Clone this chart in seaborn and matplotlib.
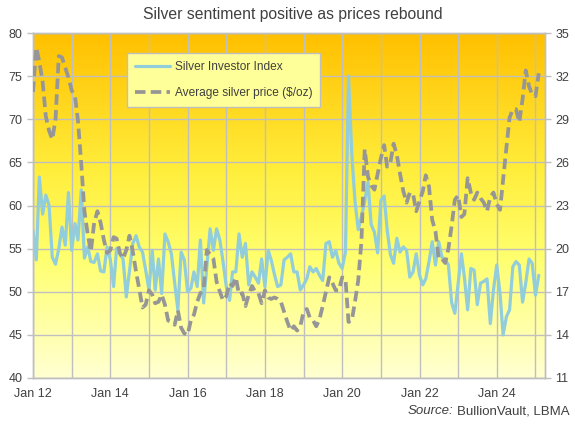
import numpy as np
import pandas as pd
import matplotlib
matplotlib.use('Agg')
import matplotlib.pyplot as plt
from matplotlib.colors import LinearSegmentedColormap
import seaborn as sns

# monthly, Jan 2012 .. Feb 2025
index_vals = [
    57.1, 53.7, 63.3, 59.0, 61.2, 60.0, 54.0, 53.2, 55.0, 57.5, 55.4, 61.5,
    54.8, 57.9, 56.0, 61.8, 53.9, 55.2, 53.5, 53.4, 54.4, 52.4, 52.3, 55.2,
    53.7, 50.6, 55.0, 54.4, 53.8, 49.4, 52.5, 55.6, 56.5, 55.2, 54.6, 52.5,
    50.2, 54.8, 50.2, 53.8, 49.8, 56.7, 55.8, 54.4, 51.0, 47.9, 54.6, 53.7,
    50.0, 50.4, 52.3, 50.6, 56.0, 48.7, 52.9, 57.3, 54.8, 57.3, 56.0, 53.5,
    50.6, 49.0, 52.3, 52.3, 56.7, 54.0, 55.6, 50.8, 52.3, 51.7, 51.0, 53.8,
    50.6, 54.8, 53.7, 52.0, 50.6, 50.8, 53.7, 54.0, 54.4, 52.3, 52.3, 50.2,
    50.8, 51.5, 52.9, 52.3, 52.7, 51.9, 51.3, 55.6, 55.8, 54.0, 54.8, 53.3,
    52.7, 54.6, 75.0, 66.0, 60.5, 57.2, 58.7, 60.5, 62.7, 57.8, 56.9, 54.5,
    60.6, 61.1, 57.2, 54.3, 53.3, 56.2, 54.6, 55.2, 54.8, 51.7, 52.3, 54.4,
    51.9, 50.8, 51.5, 53.5, 55.8, 53.1, 55.8, 54.0, 53.7, 53.1, 48.7, 47.5,
    51.0, 54.4, 51.7, 47.9, 52.7, 52.5, 48.5, 51.0, 51.2, 51.5, 46.3, 50.2,
    53.1, 49.8, 45.0, 47.1, 47.9, 52.9, 53.5, 53.1, 48.8, 51.0, 53.8, 53.3,
    49.6, 51.9,
]

price_vals = [
    30.9, 34.0, 33.0, 31.6, 29.2, 28.2, 27.6, 29.0, 33.4, 33.3, 32.6, 31.9,
    31.0, 30.6, 28.9, 25.9, 22.6, 21.0, 19.8, 21.8, 22.6, 21.8, 20.6, 19.7,
    19.9, 20.8, 20.7, 19.7, 19.3, 19.9, 20.9, 19.8, 18.4, 17.2, 15.9, 16.1,
    17.1, 16.8, 16.2, 16.3, 16.8, 16.1, 15.0, 14.9, 14.7, 15.7, 14.5, 14.1,
    14.0, 15.0, 15.4, 16.3, 16.9, 17.2, 19.9, 19.6, 19.3, 17.7, 17.0, 16.4,
    16.7, 17.6, 17.4, 18.0, 16.8, 16.9, 16.0, 16.8, 17.4, 17.0, 16.9, 16.2,
    17.1, 16.6, 16.5, 16.6, 16.5, 16.3, 15.6, 14.9, 14.3, 14.6, 14.3, 14.6,
    15.6, 15.8, 15.2, 15.0, 14.6, 15.1, 16.0, 17.0, 18.0, 17.6, 17.1, 17.1,
    18.0, 17.9, 14.9, 15.0, 16.3, 17.8, 20.5, 26.9, 25.0, 24.4, 24.1, 25.2,
    26.3, 27.2, 25.7, 26.0, 27.3, 26.5, 25.2, 24.0, 23.2, 23.9, 23.8, 22.6,
    23.3, 24.0, 25.1, 24.3, 22.0, 21.2, 19.3, 19.3, 19.0, 20.0, 21.6, 23.4,
    23.7, 22.2, 22.4, 24.9, 23.9, 23.4, 23.9, 23.5, 23.2, 22.6, 23.6, 23.9,
    23.1, 22.7, 24.8, 27.0, 29.1, 29.7, 29.7, 28.8, 30.4, 32.4, 31.3, 30.7,
    30.6, 32.2,
]

dates = pd.date_range('2012-01-01', periods=len(price_vals), freq='MS')
df = pd.DataFrame({'date': dates, 'index': index_vals, 'price': price_vals})

left_ticks = list(range(40, 81, 5))
right_ticks = list(range(11, 36, 3))

sns.set_style('white')
plt.rcParams['font.family'] = ['Liberation Sans', 'DejaVu Sans']

text_col = '#404040'
grid_col = '#BFBFBF'
blue = '#92CDDC'
grey = '#969696'

fig = plt.figure(figsize=(5.75, 4.24), dpi=100)
ax = fig.add_axes([33 / 575, 46 / 424, 512 / 575, 345 / 424])

# background gradient, orange at top fading to pale yellow
cmap = LinearSegmentedColormap.from_list(
    'bg', [(0, '#FFFFD2'), (0.35, '#FFFF6E'), (0.6, '#FFEE3C'), (1, '#FFC000')])
grad = np.linspace(0, 1, 256).reshape(-1, 1)
ax.imshow(grad, cmap=cmap, aspect='auto', origin='lower',
          extent=[0, 1, 0, 1], transform=ax.transAxes, zorder=0)

sns.lineplot(data=df, x='date', y='index', ax=ax, color=blue, linewidth=2.3,
             label='Silver Investor Index', legend=False, zorder=3)

ax2 = ax.twinx()
sns.lineplot(data=df, x='date', y='price', ax=ax2, color=grey, linewidth=2.7,
             label='Average silver price ($/oz)', legend=False, zorder=3)
ax2.lines[0].set_dashes([2.8, 1.4])

ax.set_ylim(40, 80)
ax2.set_ylim(11, 35)
ax.set_yticks(left_ticks)
ax2.set_yticks(right_ticks)
ax.set_xlim(pd.Timestamp('2012-01-01'), pd.Timestamp('2025-04-01'))

years = pd.date_range('2012-01-01', '2025-01-01', freq='YS')
ax.set_xticks(years)
ax.set_xticklabels(['Jan %02d' % (d.year % 100) if d.year % 2 == 0 else ''
                    for d in years])

ax.grid(True, color=grid_col, linewidth=1)
ax.set_axisbelow(False)
for line in ax.get_xgridlines() + ax.get_ygridlines():
    line.set_zorder(1)
ax2.grid(False)

for a in (ax, ax2):
    a.set_xlabel('')
    a.set_ylabel('')
    for s in a.spines.values():
        s.set_color(grid_col)
        s.set_linewidth(1)
    a.tick_params(colors=grid_col, labelcolor=text_col, labelsize=9,
                  length=4, width=1)
ax.tick_params(axis='x', pad=3)
ax2.patch.set_visible(False)

h1, l1 = ax.get_legend_handles_labels()
h2, l2 = ax2.get_legend_handles_labels()
leg = ax2.legend(h1 + h2, l1 + l2, loc='upper left',
                 bbox_to_anchor=(0.184, 0.942), borderaxespad=0,
                 fontsize=8.6, frameon=True, fancybox=False, framealpha=1,
                 facecolor='#FFFF99', edgecolor=grid_col,
                 handlelength=2.9, labelspacing=1.2, borderpad=0.65,
                 handletextpad=0.45)
for t in leg.get_texts():
    t.set_color(text_col)

fig.text(293 / 575, 1 - 14 / 424, 'Silver sentiment positive as prices rebound',
         ha='center', va='center', fontsize=11.3, color=text_col)
fig.text(0.789, 1 - 411 / 424, 'Source:', ha='right', va='center',
         fontsize=9.5, style='italic', color=text_col)
fig.text(0.794, 1 - 411 / 424, 'BullionVault, LBMA', ha='left', va='center',
         fontsize=9.5, color=text_col)

fig.savefig('out.png', dpi=100)
